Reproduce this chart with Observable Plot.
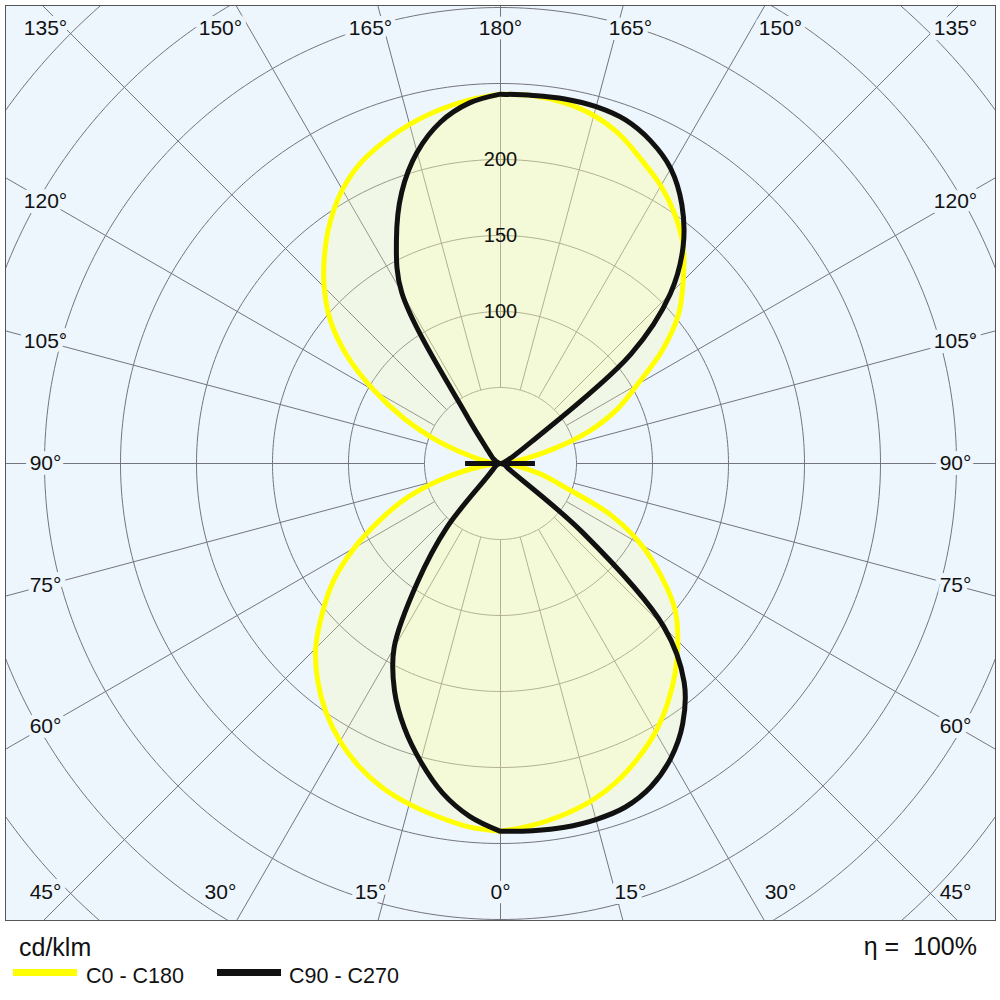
<!DOCTYPE html>
<html>
<head>
<meta charset="utf-8">
<script src="https://cdn.jsdelivr.net/npm/d3@7"></script>
<script src="https://cdn.jsdelivr.net/npm/@observablehq/plot@0.6"></script>
<style>
  html, body { margin: 0; padding: 0; background: #ffffff; }
  body { width: 1000px; height: 1000px; position: relative; overflow: hidden;
         font-family: "Liberation Sans", Arial, sans-serif; color: #111; }
  #chart { position: absolute; left: 0; top: 0; }
  .t { position: absolute; white-space: nowrap; line-height: 1; }
  .sw { position: absolute; height: 7px; width: 64px; }
</style>
</head>
<body>
<div id="chart"></div>
<div class="t" id="unit" style="left:19px; top:935px; font-size:25px;">cd/klm</div>
<div class="t" id="eta" style="right:23px; top:934px; font-size:25px;">η =&nbsp; 100%</div>
<div class="sw" style="left:13px; top:969px; background:#ffff00;"></div>
<div class="t" style="left:86px; top:966px; font-size:21.5px;">C0 - C180</div>
<div class="sw" style="left:217px; top:969px; background:#111111;"></div>
<div class="t" style="left:289px; top:966px; font-size:21.5px;">C90 - C270</div>
<script>
// ---- data (cd/klm) ----
const gammaDeg = [0,5,10,15,20,25,30,35,40,45,50,55,60,65,70,75,80,85,90,
                  95,100,105,110,115,120,125,130,135,140,145,150,155,160,165,170,175,180];
const C0   = [242,239,235,230,223,214,204,192,179,165,150,129,107,80,44,28,13,5,0,
              3,13,34,62,85,104,130,153,170,187,200,211,220,230,237,241,243,243];
const C180 = [242,240,236,232,227,220,211,200,187,172,153,134,111,87,65,40,18,5,0,
              4,12,24,45,70,96,123,146,164,180,195,208,218,225,231,236,240,243];
const C90  = [242,242.5,243,242.5,240.5,234.5,224,209,188,152,70,8,5,4,3,2,1,0.5,0,
              0.5,1,2,3,5,10,25,112,158,187,208,224,234,240.5,243,243.5,243,243];
const C270 = [242,233,220,203,185,165,140,95,55,12,7,5,4,3,2,1.5,1,0.5,0,
              0.5,1,2,2,3,4,6,8,11,18,40,130,162,190,212,228,238,243];
const ringValues = [50,100,150,200,250,300,350,400,450];
const ringLabels = [100,150,200];
const spokeAngles = [0,15,30,45,60,75,90,105,120,135,150,165,180,195,210,225,240,255,270,285,300,315,330,345];
const labelAngles = [0,15,30,45,60,75,90,105,120,135,150,165,180];
const luminaireHalfWidth = 23;

// ---- geometry helpers ----
const K = 1.52;              // px per cd/klm
const rad = Math.PI / 180;
function halfCurve(vals, sign) {
  return gammaDeg.map((g, i) => ({x: sign * vals[i] * Math.sin(g * rad), y: -vals[i] * Math.cos(g * rad)}));
}
function polygon(right, left) {
  return halfCurve(right, 1).concat(halfCurve(left, -1).reverse());
}
const yellowPoly = polygon(C0, C180);
const blackPoly = polygon(C90, C270);

const rings = ringValues.flatMap(v => d3.range(0, 361, 1).map(a => ({ring: v, x: v * Math.sin(a * rad), y: v * Math.cos(a * rad)})));
const spokes = spokeAngles.map(a => ({
  x1: 50 * Math.sin(a * rad), y1: -50 * Math.cos(a * rad),
  x2: 700 * Math.sin(a * rad), y2: -700 * Math.cos(a * rad)
}));

// angle label placement around the frame
const labels = [];
labelAngles.forEach(g => {
  const sides = (g === 0 || g === 180) ? [1] : [1, -1];
  sides.forEach(s => {
    const dx = s * Math.sin(g * rad), dy = Math.cos(g * rad); // px direction, y down
    const t = Math.min(Math.abs(dx) > 1e-9 ? 455 / Math.abs(dx) : Infinity,
                       Math.abs(dy) > 1e-9 ? 485 / Math.abs(dy) : Infinity);
    let px = t * dx, py = t * dy;
    py = Math.max(-435, Math.min(429, py));
    labels.push({x: px / K, y: -py / K, text: g + "°"});
  });
});

const BG = "#EDF5FD";
const FILL = "#ffffa8";
const plot = Plot.plot({
  width: 1000,
  height: 925,
  marginLeft: 5, marginRight: 5, marginTop: 5, marginBottom: 5,
  x: {domain: [-495 / K, 495 / K], axis: null},
  y: {domain: [-457 / K, 458 / K], axis: null},
  style: {fontFamily: "'Liberation Sans', Arial, sans-serif", background: "#ffffff", overflow: "visible"},
  marks: [
    Plot.frame({fill: BG, stroke: null}),
    Plot.line(rings, {x: "x", y: "y", z: "ring", stroke: "#75757c", strokeWidth: 1, clip: true}),
    Plot.link(spokes, {x1: "x1", y1: "y1", x2: "x2", y2: "y2", stroke: "#75757c", strokeWidth: 1, clip: true}),
    Plot.line(yellowPoly, {x: "x", y: "y", curve: "catmull-rom-closed", stroke: "none", fill: FILL, fillOpacity: 0.25}),
    Plot.line(blackPoly, {x: "x", y: "y", curve: "catmull-rom-closed", stroke: "none", fill: FILL, fillOpacity: 0.25}),
    Plot.text(ringLabels, {x: 0, y: d => d, text: d => String(d), fontSize: 20, fill: "#111"}),
    Plot.line(yellowPoly, {x: "x", y: "y", curve: "catmull-rom-closed", stroke: "#ffff00", strokeWidth: 5, strokeLinejoin: "round"}),
    Plot.line(blackPoly, {x: "x", y: "y", curve: "catmull-rom-closed", stroke: "#111111", strokeWidth: 5, strokeLinejoin: "round"}),
    Plot.ruleY([0], {x1: -luminaireHalfWidth, x2: luminaireHalfWidth, stroke: "#111111", strokeWidth: 5}),
    Plot.text(labels, {x: "x", y: "y", text: "text", fontSize: 21, fill: "#111", stroke: BG, strokeWidth: 10}),
    Plot.frame({stroke: "#555555", strokeWidth: 1})
  ]
});
document.getElementById("chart").appendChild(plot);
</script>
</body>
</html>
